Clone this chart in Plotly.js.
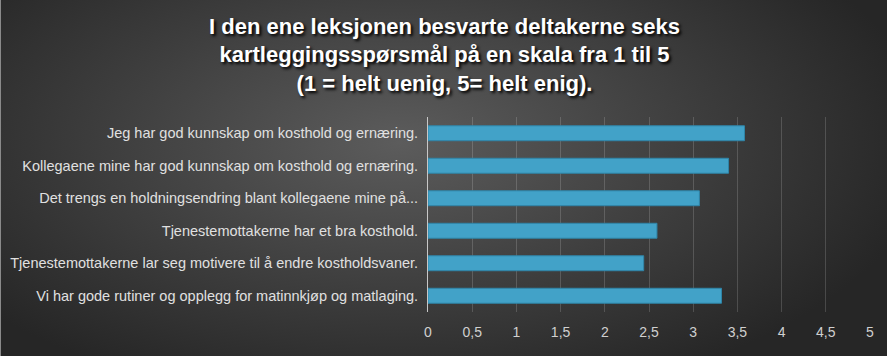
<!DOCTYPE html>
<html>
<head>
<meta charset="utf-8">
<script src="https://cdn.plot.ly/plotly-3.0.1.min.js"></script>
<style>
  html, body { margin: 0; padding: 0; }
  #chart {
    width: 887px; height: 356px;
    background: radial-gradient(ellipse 60% 75% at 45% 40%, #5c5c5c 0%, #3e3e3e 55%, #262626 100%);
    border-left: 1px solid #8a8a8a;
    box-sizing: border-box;
  }
</style>
</head>
<body>
<div id="chart"></div>
<script>
const titleText = "I den ene leksjonen besvarte deltakerne seks<br>kartleggingsspørsmål på en skala fra 1 til 5<br>(1 = helt uenig, 5= helt enig).";
const categories = [
  "Jeg har god kunnskap om kosthold og ernæring.",
  "Kollegaene mine har god kunnskap om kosthold og ernæring.",
  "Det trengs en holdningsendring blant kollegaene mine på...",
  "Tjenestemottakerne har et bra kosthold.",
  "Tjenestemottakerne lar seg motivere til å endre kostholdsvaner.",
  "Vi har gode rutiner og opplegg for matinnkjøp og matlaging."
];
const values = [3.58, 3.40, 3.07, 2.59, 2.44, 3.32];
const tickVals = [0, 0.5, 1, 1.5, 2, 2.5, 3, 3.5, 4, 4.5, 5];
const tickText = ["0", "0,5", "1", "1,5", "2", "2,5", "3", "3,5", "4", "4,5", "5"];

const trace = {
  type: "bar",
  orientation: "h",
  x: values,
  y: categories,
  marker: { color: "#42a2c8", line: { color: "#2f85a8", width: 1 } },
  hoverinfo: "x+y"
};

const layout = {
  width: 887, height: 356,
  paper_bgcolor: "rgba(0,0,0,0)",
  plot_bgcolor: "rgba(0,0,0,0)",
  margin: { l: 427, r: 18, t: 117, b: 44 },
  bargap: 0.54,
  showlegend: false,
  title: {
    text: titleText,
    x: 0.5, xanchor: "center",
    y: 0.905, yanchor: "top", yref: "container",
    font: { family: "Liberation Sans, Arial, sans-serif", size: 22, color: "#ffffff", weight: "bold", shadow: "2px 2px 3px #000" }
  },
  xaxis: {
    range: [0, 5],
    tickvals: tickVals,
    ticktext: tickText,
    showgrid: true,
    gridcolor: "rgba(255,255,255,0.16)",
    gridwidth: 1,
    zeroline: false,
    showline: false,
    ticks: "",
    ticklen: 0,
    ticklabelstandoff: 10,
    tickfont: { family: "Liberation Sans, Arial, sans-serif", size: 14, color: "#d0d0d0" },
    fixedrange: true
  },
  yaxis: {
    autorange: "reversed",
    showline: true,
    linecolor: "#c8c8c8",
    linewidth: 1,
    showgrid: false,
    ticks: "",
    ticklen: 0,
    ticklabelstandoff: 6,
    tickfont: { family: "Liberation Sans, Arial, sans-serif", size: 14.5, color: "#e0e0e0" },
    fixedrange: true
  }
};

Plotly.newPlot("chart", [trace], layout, { displayModeBar: false, staticPlot: true });
</script>
</body>
</html>
